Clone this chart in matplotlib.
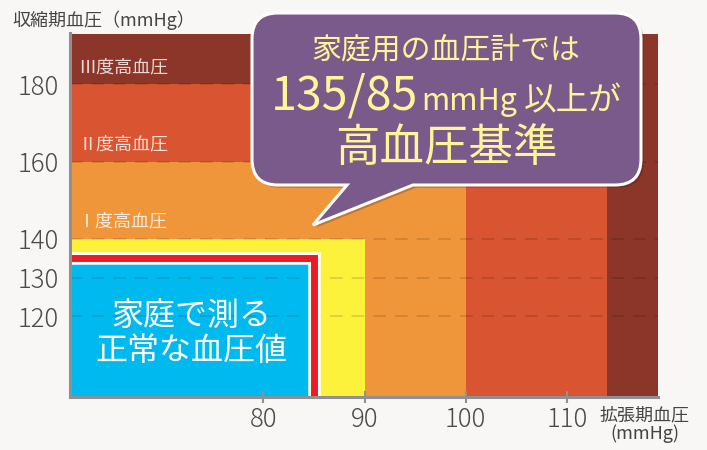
import matplotlib
matplotlib.use("Agg")
import matplotlib.pyplot as plt
import matplotlib.patheffects as pe
from matplotlib.path import Path
from matplotlib.patches import PathPatch

plt.rcParams['font.family'] = ['Noto Sans CJK JP', 'DejaVu Sans']

# --- data ---
zone_names = ["Ⅲ度高血圧", "Ⅱ度高血圧", "Ⅰ度高血圧", "正常高値", "家庭で測る\n正常な血圧値"]
zone_dia_max = [119, 114, 100, 90, 85]      # right edge of each zone (mmHg, as drawn)
zone_sys_max = [193, 180, 160, 140, 135]    # top edge of each zone (mmHg)
zone_colors = ["#8b3628", "#d95431", "#f0963a", "#fcf23c", "#00b9ee"]
home_limit_sys, home_limit_dia = 135, 85
x_ticks = [80, 90, 100, 110]
y_ticks = [120, 130, 140, 160, 180]
x_min, y_min = 60.9, 99.2

axis_gray = "#8e9095"
bg = "#f8f7f5"

fig = plt.figure(figsize=(7.07, 4.5), dpi=100, facecolor=bg)
ax = fig.add_axes([70 / 707, 1 - 396.7 / 450, (658 - 70) / 707, (396.7 - 33.3) / 450])
ax.set_facecolor(bg)

# nested zones, largest first
for name, dia, sys_, col in zip(zone_names, zone_dia_max, zone_sys_max, zone_colors):
    ax.bar(x_min, sys_ - y_min, width=dia - x_min, bottom=y_min, align='edge',
           color=col, linewidth=0, zorder=1)

# dashed guide lines
for yv in y_ticks:
    ax.axhline(yv, color="black", alpha=0.13, lw=1.3, dashes=(7, 5), zorder=2)

# tier labels, just above the lower border of each zone
for i in range(3):
    ax.text(x_min + 0.8, zone_sys_max[i + 1] + 4.5, zone_names[i], color="white", alpha=0.82,
            fontsize=13, ha='left', va='center', zorder=3)

# home normal text in blue zone
ax.text(72.9, 115.5, zone_names[4], color="white", fontsize=23, ha='center', va='center',
        linespacing=1.1, zorder=4)

# red 135/85 border line
ax.plot([x_min, home_limit_dia, home_limit_dia], [home_limit_sys, home_limit_sys, y_min],
        color="#ec1c24", lw=5, solid_joinstyle='miter', solid_capstyle='butt', zorder=5,
        path_effects=[pe.SimpleLineShadow(offset=(1.5, -1.5), alpha=0.3),
                      pe.Stroke(linewidth=9, foreground="white"), pe.Normal()])

ax.set_xlim(x_min, 119.0)
ax.set_ylim(y_min, 193.2)
ax.set_xticks(x_ticks)
ax.set_yticks(y_ticks)
ax.tick_params(axis='x', direction='inout', length=8, width=1.5, color=axis_gray,
               labelsize=18.5, labelcolor="#4a4a4a", pad=3)
ax.tick_params(axis='y', length=0, labelsize=18.5, labelcolor="#4a4a4a", pad=8)
for lab in ax.get_xticklabels() + ax.get_yticklabels():
    lab.set_fontweight('light')
for s in ["top", "right"]:
    ax.spines[s].set_visible(False)
for s in ["left", "bottom"]:
    ax.spines[s].set_color(axis_gray)
    ax.spines[s].set_linewidth(2.2)
    ax.spines[s].set_zorder(6)

fig.text(12 / 707, 1 - 20 / 450, "収縮期血圧（mmHg）", fontsize=13, color="#444444",
         ha='left', va='center')
fig.text(645 / 707, 1 - 406 / 450, "拡張期血圧\n(mmHg)", fontsize=13, color="#444444",
         ha='center', va='top', multialignment='center', linespacing=1.0)


# speech bubble (pixel coordinates, y down)
def px(x, y):
    return (x / 707, 1 - y / 450)


L, T, R, B, r = 252, 13, 641, 185, 26
pts = [
    ((L + r, T), Path.MOVETO),
    ((R - r, T), Path.LINETO),
    ((R, T), Path.CURVE3), ((R, T + r), Path.CURVE3),
    ((R, B - r), Path.LINETO),
    ((R, B), Path.CURVE3), ((R - r, B), Path.CURVE3),
    ((413, B), Path.LINETO),
    ((313, 225), Path.LINETO),
    ((347, B), Path.LINETO),
    ((L + r, B), Path.LINETO),
    ((L, B), Path.CURVE3), ((L, B - r), Path.CURVE3),
    ((L, T + r), Path.LINETO),
    ((L, T), Path.CURVE3), ((L + r, T), Path.CURVE3),
    ((L + r, T), Path.CLOSEPOLY),
]
bubble = PathPatch(Path([px(*p) for p, _ in pts], [c for _, c in pts]),
                   facecolor="#7a5a8b", edgecolor="white", lw=2.2,
                   transform=fig.transFigure, clip_on=False, zorder=10,
                   path_effects=[pe.SimplePatchShadow(offset=(2, -2), alpha=0.25), pe.Normal()])
ax.add_patch(bubble)

txt_col = "#fff49a"
ax.text(*px(446, 50), "家庭用の血圧計では", fontsize=21.5, color=txt_col, ha='center', va='center',
        transform=fig.transFigure, zorder=11)
ax.text(*px(446, 148), "高血圧基準", fontsize=32, color=txt_col, ha='center', va='center',
        transform=fig.transFigure, zorder=11)

# middle line: pieces of different sizes laid out one after another
renderer = fig.canvas.get_renderer()
pieces = [("135/85", 33.5, 0), ("mmHg", 22, 4), ("以上が", 23.5, 6)]
x_cur = 0
placed = []
for s, fs, gap in pieces:
    x_cur += gap
    t = ax.text(*px(x_cur, 110), s, fontsize=fs, color=txt_col, ha='left', va='baseline',
                transform=fig.transFigure, zorder=11)
    w = t.get_window_extent(renderer).width
    placed.append((t, x_cur))
    x_cur += w
start = 446 - x_cur / 2
for t, x0 in placed:
    t.set_position(px(start + x0, 110))

fig.savefig("out.png", dpi=100, facecolor=bg)
